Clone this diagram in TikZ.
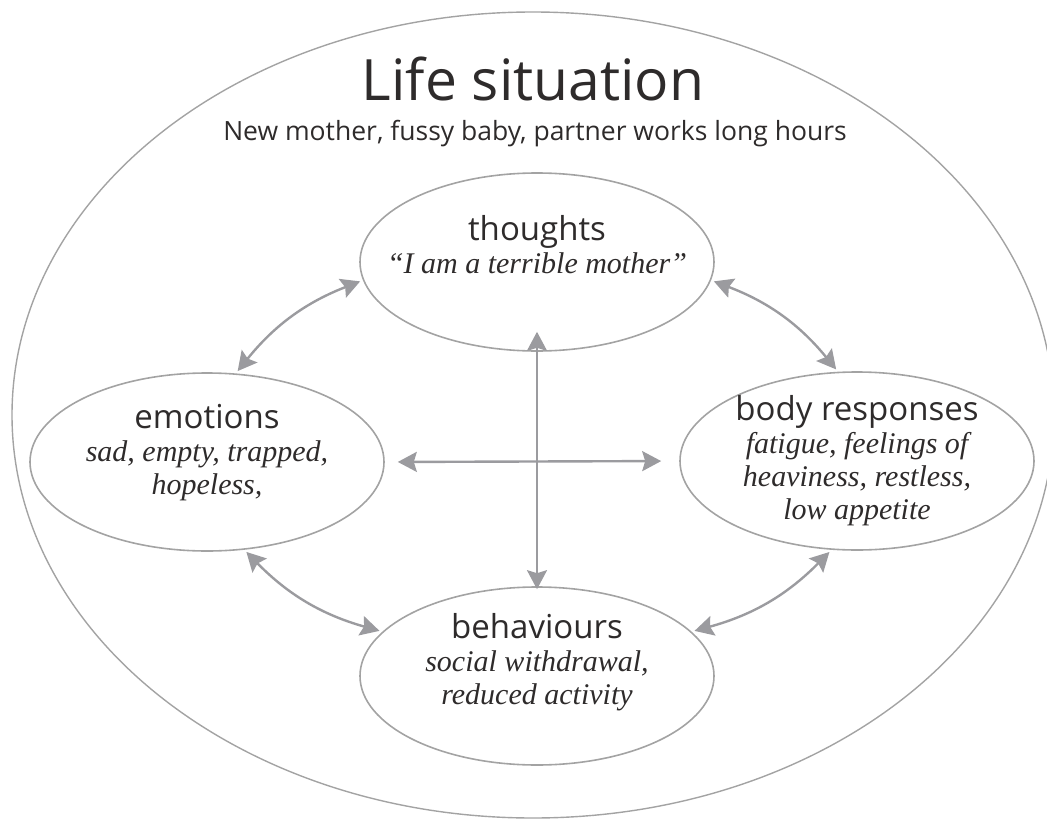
\documentclass[tikz,border=0pt]{standalone}
\usepackage{fontspec}
\setmainfont{Liberation Serif}
\setsansfont{Open Sans}
\usetikzlibrary{shapes.geometric,arrows.meta}

\definecolor{linegray}{HTML}{9B9B9F}
\definecolor{rimgray}{HTML}{A3A3A3}
\definecolor{inkgray}{HTML}{2E2B2B}

% upright sans heading inside an italic area node
\newcommand{\headline}[1]{{\sffamily\upshape\fontsize{33}{33}\selectfont #1}}

\begin{document}
\begin{tikzpicture}[x=1pt, y=1pt,
    area/.style={ellipse, draw=rimgray, line width=1.6pt, inner sep=-30pt,
        minimum width=354pt, minimum height=178pt, align=center,
        text=inkgray, font=\itshape\fontsize{30}{33}\selectfont},
    link/.style={draw=linegray, line width=2.4pt,
        {Stealth[length=19pt,width=20pt,inset=3pt]}-{Stealth[length=19pt,width=20pt,inset=3pt]},
        shorten <=3pt, shorten >=3pt}]
    \useasboundingbox (0,0) rectangle (1047,-819);

    % Outer frame
    \draw[rimgray, line width=1.4pt] (533,-415) ellipse [x radius=521, y radius=403];

    % Heading
    \node[font=\sffamily\fontsize{57}{57}\selectfont, text=inkgray, anchor=base] (life) at (533,-100) {Life situation};
    \node[font=\sffamily\fontsize{26.5}{30}\selectfont, text=inkgray, anchor=base] (setting) at (535,-140) {New mother, fussy baby, partner works long hours};

    % The four areas
    \node[area, text depth=36pt] (thoughts) at (537,-262) {\headline{thoughts}\\“I am a terrible mother”};
    \node[area, text depth=26pt] (emotions) at (207,-462) {\headline{emotions}\\sad, empty, trapped,\\hopeless,};
    \node[area] (body) at (857,-461) {\headline{body responses}\\fatigue, feelings of\\heaviness, restless,\\low appetite};
    \node[area, text depth=34pt] (behaviours) at (537,-676) {\headline{behaviours}\\social withdrawal,\\reduced activity};

    % Links between areas
    \draw[link] (thoughts.186) to[bend right=15] (emotions.72);
    \draw[link] (thoughts.354) to[bend left=15] (body.102);
    \draw[link] (emotions.293) to[bend right=15] (behaviours.164);
    \draw[link] (body.254) to[bend left=15] (behaviours.16);
    \draw[link, shorten <=13pt, shorten >=18pt] (emotions.east) -- (body.west);
    \draw[link, shorten <=-20pt, shorten >=-3pt] (thoughts.south) -- (behaviours.north);

\end{tikzpicture}
\end{document}
